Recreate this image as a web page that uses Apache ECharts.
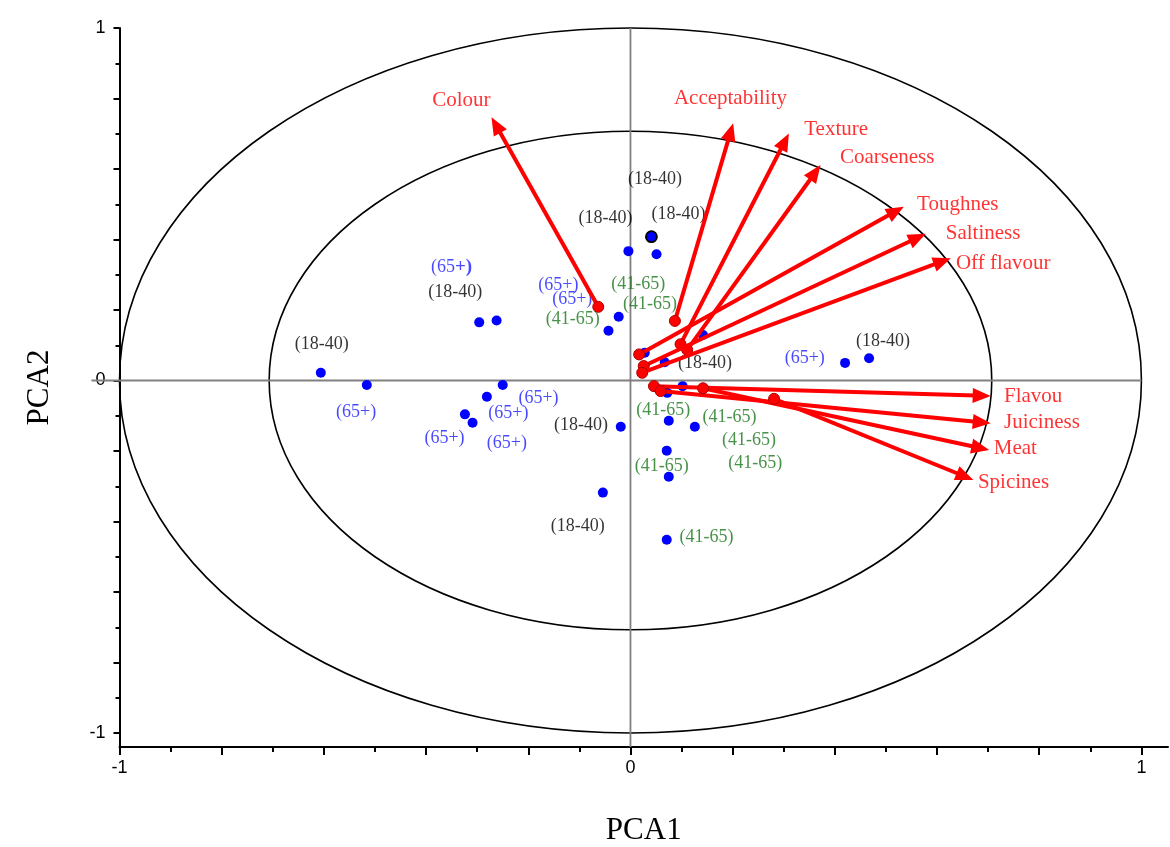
<!DOCTYPE html>
<html>
<head>
<meta charset="utf-8">
<script src="https://cdn.jsdelivr.net/npm/echarts@6/dist/echarts.min.js"></script>
<style>
html,body{margin:0;padding:0;background:#fff;}
#chart{width:1170px;height:847px;}
</style>
</head>
<body>
<div id="chart"></div>
<script>
// ---- Data ----
const samplePoints = [
  [-0.606, 0.022], [-0.516, -0.013], [-0.296, 0.165], [-0.262, 0.170],
  [-0.250, -0.013], [-0.281, -0.046], [-0.324, -0.096], [-0.309, -0.120],
  [-0.004, 0.367], [0.051, 0.358], [-0.023, 0.181], [-0.043, 0.141],
  [0.142, 0.129], [0.028, 0.079], [0.067, 0.052], [0.102, -0.016],
  [0.072, -0.035], [0.075, -0.114], [0.126, -0.131], [-0.019, -0.131],
  [0.071, -0.199], [0.075, -0.273], [-0.054, -0.318], [0.071, -0.452],
  [0.420, 0.050], [0.467, 0.063]
];
const outlinedPoint = [[0.041, 0.408]];

const labels18to40 = [
  [0.048, 0.571], [-0.049, 0.460], [0.094, 0.471], [-0.343, 0.250],
  [-0.604, 0.104], [-0.097, -0.126], [-0.103, -0.413], [0.146, 0.049], [0.494, 0.110]
];
const labels65plus = [
  [-0.141, 0.269], [-0.114, 0.230], [0.341, 0.063], [-0.537, -0.090],
  [-0.180, -0.049], [-0.239, -0.093], [-0.364, -0.164], [-0.242, -0.178]
];
const labels65plusBold = [[-0.350, 0.321]];
const labels41to65 = [
  [0.015, 0.274], [0.038, 0.217], [-0.113, 0.174], [0.064, -0.084],
  [0.194, -0.104], [0.232, -0.169], [0.244, -0.235], [0.061, -0.242], [0.149, -0.446]
];

const attributeNames = ['Colour', 'Acceptability', 'Texture', 'Coarseness', 'Toughnes',
  'Saltiness', 'Off flavour', 'Flavou', 'Juiciness', 'Meat', 'Spicines'];
const arrowStart = [
  [-0.063, 0.209], [0.087, 0.169], [0.098, 0.103], [0.111, 0.087], [0.017, 0.074],
  [0.026, 0.041], [0.023, 0.022], [0.046, -0.016], [0.059, -0.030], [0.142, -0.022], [0.281, -0.052]
];
const arrowEnd = [
  [-0.272, 0.747], [0.201, 0.730], [0.310, 0.701], [0.372, 0.611], [0.535, 0.493],
  [0.578, 0.416], [0.627, 0.347], [0.705, -0.044], [0.705, -0.121], [0.702, -0.197], [0.671, -0.282]
];
const attributeLabelPos = [
  [-0.388, 0.793], [0.085, 0.801], [0.340, 0.713], [0.410, 0.633], [0.561, 0.498],
  [0.617, 0.416], [0.637, 0.332], [0.731, -0.044], [0.731, -0.119], [0.711, -0.192], [0.680, -0.289]
];

const circleRadii = [1, 0.7071];
const refLines = [[-1.055, 0, 1, 0], [0, -1.04, 0, 1]];

const xMajorTicks = [-1, -0.8, -0.6, -0.4, -0.2, 0, 0.2, 0.4, 0.6, 0.8, 1];
const xMinorTicks = [-0.9, -0.7, -0.5, -0.3, -0.1, 0.1, 0.3, 0.5, 0.7, 0.9];
const yMajorTicks = [-1, -0.8, -0.6, -0.4, -0.2, 0, 0.2, 0.4, 0.6, 0.8, 1];
const yMinorTicks = [-0.9, -0.7, -0.5, -0.3, -0.1, 0.1, 0.3, 0.5, 0.7, 0.9];
const tickLabels = [-1, 0, 1];

// ---- Chart ----
const chart = echarts.init(document.getElementById('chart'));
const serif = 'Liberation Serif';
const sans = 'Liberation Sans';
const X_MIN = -1, X_MAX = 1.052, Y_MIN = -1.0397, Y_MAX = 1;

function labelSeries(name, data, color, fmt) {
  return {
    name, type: 'scatter', data, symbolSize: 0, z: 2, silent: true,
    label: {
      show: true, position: 'inside', color: color, fontFamily: serif, fontSize: 18,
      formatter: fmt,
      rich: {
        n: { color: color, fontFamily: serif, fontSize: 18 },
        b: { color: color, fontFamily: serif, fontSize: 19, fontWeight: 'bold' }
      }
    }
  };
}

const option = {
  animation: false,
  backgroundColor: '#fff',
  grid: { left: 119.5, top: 28, right: 2, bottom: 100, containLabel: false, outerBoundsMode: 'none' },
  xAxis: [{
    type: 'value', min: X_MIN, max: X_MAX, position: 'bottom',
    name: 'PCA1', nameLocation: 'middle', nameGap: 68,
    nameTextStyle: { fontFamily: serif, fontSize: 31, color: '#000' },
    axisLine: { show: true, onZero: false, lineStyle: { color: '#000', width: 2 } },
    axisTick: { show: true, customValues: xMajorTicks, length: 8, lineStyle: { color: '#000', width: 2 } },
    axisLabel: { show: true, customValues: tickLabels, margin: 12, color: '#000', fontFamily: sans, fontSize: 18,
      formatter: v => String(Math.round(v)) },
    splitLine: { show: false }
  }, {
    type: 'value', min: X_MIN, max: X_MAX, position: 'bottom',
    axisLine: { show: false, onZero: false },
    axisTick: { show: true, customValues: xMinorTicks, length: 5, lineStyle: { color: '#000', width: 2 } },
    axisLabel: { show: false },
    splitLine: { show: false }
  }],
  yAxis: [{
    type: 'value', min: Y_MIN, max: Y_MAX, position: 'left',
    name: 'PCA2', nameLocation: 'middle', nameGap: 64,
    nameTextStyle: { fontFamily: serif, fontSize: 31, color: '#000' },
    axisLine: { show: true, onZero: false, lineStyle: { color: '#000', width: 2 } },
    axisTick: { show: true, customValues: yMajorTicks, length: 6, lineStyle: { color: '#000', width: 2 } },
    axisLabel: { show: true, customValues: tickLabels, margin: 14, color: '#000', fontFamily: sans, fontSize: 18,
      formatter: v => String(Math.round(v)) },
    splitLine: { show: false }
  }, {
    type: 'value', min: Y_MIN, max: Y_MAX, position: 'left',
    axisLine: { show: false, onZero: false },
    axisTick: { show: true, customValues: yMinorTicks, length: 4, lineStyle: { color: '#000', width: 2 } },
    axisLabel: { show: false },
    splitLine: { show: false }
  }],
  series: [
    {
      name: 'circles', type: 'custom', z: 1, silent: true, clip: false,
      data: circleRadii.map(r => [0, 0, r]),
      renderItem: (params, api) => {
        const c = api.coord([api.value(0), api.value(1)]);
        const r = api.value(2);
        const sz = api.size([r, r]);
        return { type: 'ellipse', shape: { cx: c[0], cy: c[1], rx: sz[0], ry: sz[1] },
          style: { fill: null, stroke: '#000', lineWidth: 1.6 } };
      }
    },
    {
      name: 'reference', type: 'custom', z: 1, silent: true, clip: false,
      data: refLines,
      renderItem: (params, api) => {
        const a = api.coord([api.value(0), api.value(1)]);
        const b = api.coord([api.value(2), api.value(3)]);
        return { type: 'line', shape: { x1: a[0], y1: a[1], x2: b[0], y2: b[1] },
          style: { stroke: '#808080', lineWidth: 1.8 } };
      }
    },
    labelSeries('18-40', labels18to40, '#000000', '(18-40)'),
    labelSeries('65+', labels65plus, '#1a1aff', '(65+)'),
    labelSeries('65+b', labels65plusBold, '#1a1aff', '{n|(65}{b|+)}'),
    labelSeries('41-65', labels41to65, '#1a751a', '(41-65)'),
    {
      name: 'samples', type: 'scatter', z: 3, data: samplePoints, symbol: 'circle', symbolSize: 10,
      itemStyle: { color: '#0000ff', opacity: 1 }
    },
    {
      name: 'samplesOutlined', type: 'scatter', z: 3, data: outlinedPoint, symbol: 'circle', symbolSize: 11,
      itemStyle: { color: '#0000ff', borderColor: '#000', borderWidth: 1.8, opacity: 1 }
    },
    {
      name: 'attributes', type: 'custom', z: 4, silent: true, clip: false,
      data: arrowStart.map((s, i) => [s[0], s[1], arrowEnd[i][0], arrowEnd[i][1]]),
      renderItem: (params, api) => {
        const s = api.coord([api.value(0), api.value(1)]);
        const e = api.coord([api.value(2), api.value(3)]);
        const dx = e[0] - s[0], dy = e[1] - s[1];
        const len = Math.sqrt(dx * dx + dy * dy);
        const ux = dx / len, uy = dy / len;
        const headLen = 18, headW = 7.5;
        const bx = e[0] - ux * headLen, by = e[1] - uy * headLen;
        return {
          type: 'group',
          children: [
            { type: 'line', shape: { x1: s[0], y1: s[1], x2: bx + ux * 3, y2: by + uy * 3 },
              style: { stroke: '#ff0000', lineWidth: 4 } },
            { type: 'polygon', shape: { points: [[e[0], e[1]], [bx - uy * headW, by + ux * headW], [bx + uy * headW, by - ux * headW]] },
              style: { fill: '#ff0000' } },
            { type: 'circle', shape: { cx: s[0], cy: s[1], r: 5.5 },
              style: { fill: '#ff0000', stroke: '#b00000', lineWidth: 1 } }
          ]
        };
      }
    },
    {
      name: 'attributeLabels', type: 'scatter', z: 5, silent: true, symbolSize: 0,
      data: attributeLabelPos.map((p, i) => ({ value: p, name: attributeNames[i] })),
      label: { show: true, position: 'right', distance: 0, formatter: '{b}',
        color: '#ff0000', fontFamily: serif, fontSize: 21 }
    }
  ]
};
chart.setOption(option);
</script>
</body>
</html>
